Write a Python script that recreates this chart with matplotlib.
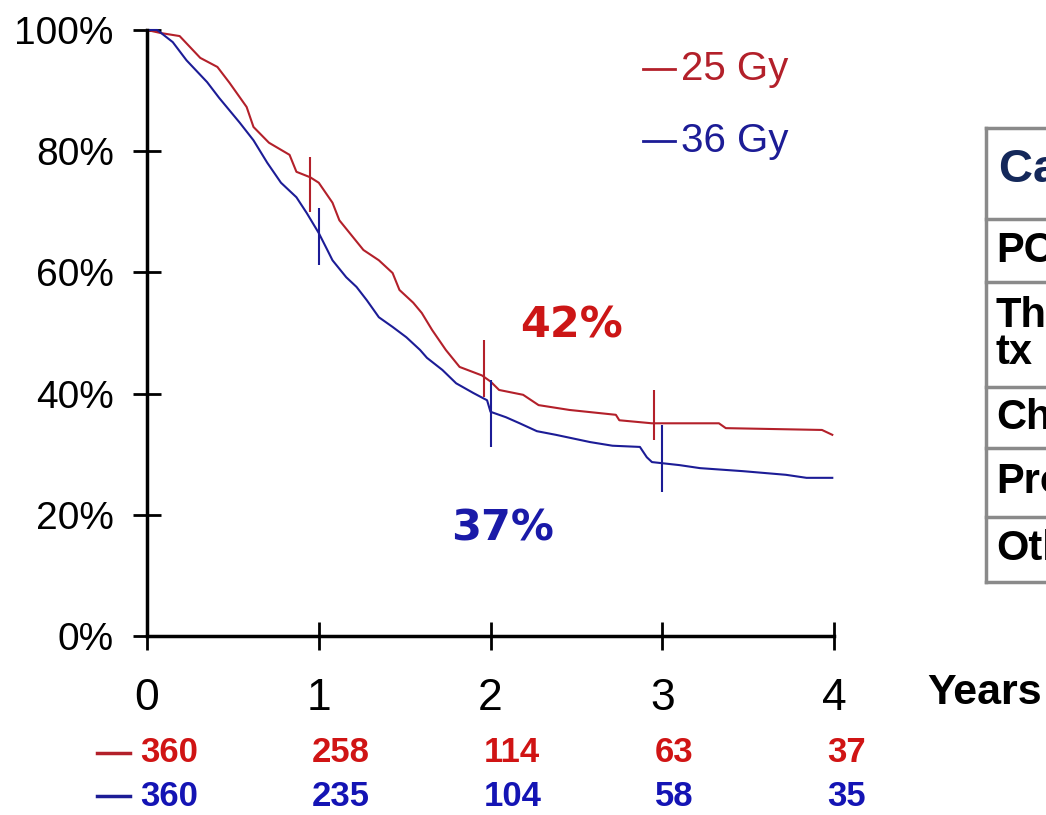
import matplotlib.pyplot as plt
from matplotlib.lines import Line2D
import numpy as np

# Kaplan-Meier survival, PCI 25 Gy vs 36 Gy
red_t = [0, 0.08, 0.19, 0.31, 0.41, 0.48, 0.58, 0.62, 0.71, 0.83, 0.87, 0.95,
         1.0, 1.08, 1.12, 1.18, 1.26, 1.35, 1.43, 1.47, 1.55, 1.60, 1.66, 1.74,
         1.82, 1.95, 2.0, 2.05, 2.19, 2.28, 2.46, 2.73, 2.75, 2.94, 3.33, 3.37,
         3.93, 3.99]
red_s = [100, 99.5, 99.0, 95.4, 93.9, 91.3, 87.3, 84.0, 81.4, 79.4, 76.6, 75.7,
         74.8, 71.5, 68.6, 66.5, 63.7, 62.0, 59.9, 57.1, 55.0, 53.3, 50.5, 47.2,
         44.4, 43.0, 42.0, 40.6, 39.8, 38.1, 37.3, 36.5, 35.6, 35.1, 35.1, 34.3,
         34.0, 33.2]

blue_t = [0, 0.06, 0.15, 0.23, 0.35, 0.42, 0.54, 0.62, 0.70, 0.78, 0.87, 0.93,
          1.0, 1.05, 1.08, 1.16, 1.22, 1.28, 1.35, 1.43, 1.51, 1.59, 1.63, 1.72,
          1.80, 1.90, 1.98, 2.0, 2.09, 2.17, 2.27, 2.38, 2.58, 2.71, 2.87, 2.91,
          2.94, 3.10, 3.22, 3.47, 3.72, 3.84, 3.99]
blue_s = [100, 100, 98.0, 95.0, 91.4, 88.8, 84.7, 81.8, 78.1, 74.8, 72.4, 69.8,
          66.5, 63.7, 62.0, 59.2, 57.6, 55.4, 52.6, 51.0, 49.3, 47.2, 45.9, 43.9,
          41.7, 40.1, 38.9, 37.0, 36.1, 35.1, 33.8, 33.2, 32.0, 31.4, 31.2, 29.5,
          28.7, 28.2, 27.7, 27.2, 26.6, 26.1, 26.1]

# vertical confidence bars at the yearly marks
red_ci_t = [0.95, 1.96, 2.95]
red_ci_lo = [70.0, 39.4, 32.3]
red_ci_hi = [79.0, 48.8, 40.6]
blue_ci_t = [1.0, 2.0, 3.0]
blue_ci_lo = [61.2, 31.2, 23.8]
blue_ci_hi = [70.6, 42.2, 34.8]

years = [0, 1, 2, 3, 4]
red_at_risk = [360, 258, 114, 63, 37]
blue_at_risk = [360, 235, 104, 58, 35]

groups = ["25 Gy", "36 Gy"]
table_rows = ["PCI", "Thoracic\ntx", "Chemo", "Progression", "Other"]

RED = "#b3202a"
BLUE = "#1c1c96"

fig = plt.figure(figsize=(10.46, 8.15), dpi=100)
ax = fig.add_axes([147 / 1046, 179 / 815, 687 / 1046, 606 / 815])

ax.plot(red_t, red_s, color=RED, lw=1.5, clip_on=False)
ax.plot(blue_t, blue_s, color=BLUE, lw=1.5, clip_on=False)
ax.vlines(red_ci_t, red_ci_lo, red_ci_hi, color=RED, lw=1.5)
ax.vlines(blue_ci_t, blue_ci_lo, blue_ci_hi, color=BLUE, lw=1.5)

ax.set_xlim(0, 4)
ax.set_ylim(0, 100)
for s in ["top", "right"]:
    ax.spines[s].set_visible(False)
for s in ["left", "bottom"]:
    ax.spines[s].set_linewidth(2.5)
    ax.spines[s].set_color("black")

ax.set_yticks([0, 20, 40, 60, 80, 100])
ax.set_yticklabels([f"{v}%" for v in [0, 20, 40, 60, 80, 100]],
                   fontsize=28, family="Liberation Sans")
ax.set_xticks(years)
ax.set_xticklabels([str(y) for y in years], fontsize=32,
                   family="Liberation Sans")
ax.tick_params(axis="both", direction="inout", length=20, width=2, color="black")
ax.tick_params(axis="y", pad=14)
ax.tick_params(axis="x", pad=20)

# group key, top right of the plot
for i, (name, col) in enumerate(zip(groups, [RED, BLUE])):
    yk = 1 - (69 + 72 * i - 30) / 606
    ax.plot([(643 - 147) / 687, (675 - 147) / 687], [yk, yk], color=col,
            lw=2, transform=ax.transAxes, clip_on=False)
    ax.text((681 - 147) / 687, yk, name, color=col, fontsize=29,
            family="Liberation Sans", va="center", ha="left",
            transform=ax.transAxes)

# survival at two years
red_2y = np.interp(2.0, red_t, red_s)
blue_2y = np.interp(2.0, blue_t, blue_s)
ax.text(2.47, 51.3, f"{red_2y:.0f}%", color="#cc1616", fontsize=31,
        fontweight="bold", ha="center", va="center", family="DejaVu Sans")
ax.text(2.07, 17.8, f"{blue_2y:.0f}%", color="#1a1aa8", fontsize=31,
        fontweight="bold", ha="center", va="center", family="DejaVu Sans")

# patients at risk
num_font = {"family": "Liberation Sans", "fontweight": "bold", "fontsize": 25}
for y, r, b in zip(years, red_at_risk, blue_at_risk):
    ax.annotate(str(r), xy=(y, 0), xycoords="data", xytext=(-7, -117),
                textcoords="offset pixels", color="#d01414", ha="left",
                va="center", annotation_clip=False, **num_font)
    ax.annotate(str(b), xy=(y, 0), xycoords="data", xytext=(-7, -160),
                textcoords="offset pixels", color="#1414b4", ha="left",
                va="center", annotation_clip=False, **num_font)
fig.add_artist(Line2D([97 / 1046, 130 / 1046], [1 - 753 / 815] * 2,
                      color=RED, lw=2.5))
fig.add_artist(Line2D([97 / 1046, 130 / 1046], [1 - 796 / 815] * 2,
                      color=BLUE, lw=2.5))

fig.text(927 / 1046, 1 - 693 / 815, "Years", fontsize=31, fontweight="bold",
         va="center", ha="left", family="Liberation Sans")

# cause-of-death table (runs off the right edge)
edges = [128, 219, 282, 387, 448, 517, 582]
tx0 = 986 / 1046
fig.add_artist(Line2D([tx0, tx0], [1 - edges[0] / 815, 1 - edges[-1] / 815],
                      color="#8a8a8a", lw=2.5))
for e in edges:
    fig.add_artist(Line2D([tx0, 1.0], [1 - e / 815] * 2, color="#8a8a8a", lw=2.5))
fig.text(999 / 1046, 1 - 170 / 815, "Cause of death", color="#14285a",
         fontsize=34, fontweight="bold", va="center", ha="left",
         family="Liberation Sans")
for lo, hi, label in zip(edges[1:-1], edges[2:], table_rows):
    fig.text(996 / 1046, 1 - (lo + hi) / 2 / 815, label, color="black",
             fontsize=30, fontweight="bold", va="center", ha="left",
             linespacing=0.9, family="Liberation Sans")

fig.savefig("out.png", dpi=100)
